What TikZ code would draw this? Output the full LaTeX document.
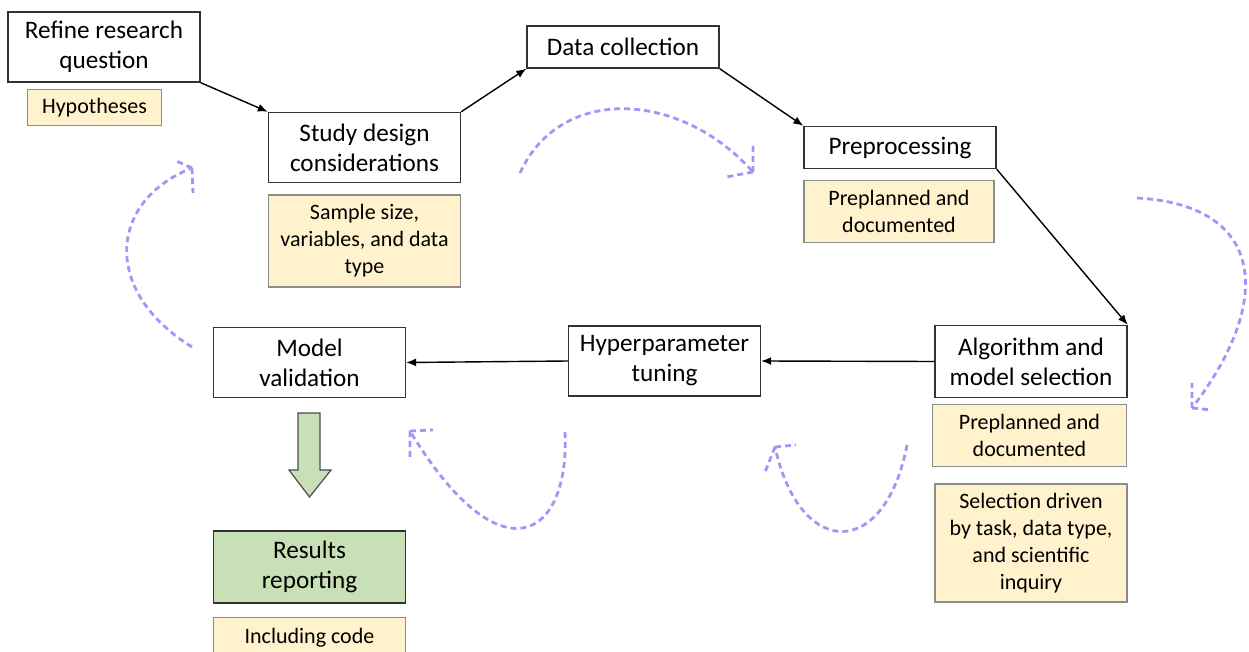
\documentclass[tikz,border=0pt]{standalone}
\usepackage{fontspec}
\setmainfont{Carlito}
\usetikzlibrary{arrows.meta}

\definecolor{notefill}{RGB}{255,242,204}
\definecolor{resultfill}{RGB}{200,224,182}
\definecolor{loopcol}{RGB}{160,150,250}

\begin{document}
\begin{tikzpicture}[
  x = 0.5pt, y = -0.5pt,
  every node/.style = {font=\fontsize{11}{13.5}\selectfont, align=center, inner sep=1pt},
  stage/.style = {draw=black!80, line width=0.7pt, fill=white, minimum width=96pt,
    font=\fontsize{12.6}{15}\selectfont},
  note/.style = {draw=black!45, line width=0.6pt, fill=notefill},
  edge/.style = {draw, line width=0.7pt, -{Latex[length=5pt, width=4pt]}},
  loop/.style = {draw=loopcol, line width=1.4pt, dash pattern=on 3pt off 2pt},
]
\useasboundingbox (0,0) rectangle (1249,652);

\node[stage, minimum height=35pt] (refine) at (104, 47) {Refine research\\question};
\node[note, minimum width=67pt, minimum height=18pt] (hyp) at (94.5, 107.5) {Hypotheses};
\node[stage, minimum height=35pt] (design) at (364.5, 147.5) {Study design\\considerations};
\node[note, minimum width=96pt, minimum height=46pt] (sample) at (364.5, 241) {Sample size,\\variables, and data\\type};
\node[stage, minimum height=21pt] (collect) at (623, 47) {Data collection};
\node[stage, minimum height=21pt] (prep) at (900, 147.5) {Preprocessing};
\node[note, minimum width=95pt, minimum height=31pt] (plan1) at (899, 211.5) {Preplanned and\\documented};
\node[stage, minimum height=36pt] (algo) at (1031, 361.5) {Algorithm and\\model selection};
\node[note, minimum width=97pt, minimum height=31pt] (plan2) at (1029.5, 435.5) {Preplanned and\\documented};
\node[note, minimum width=96pt, minimum height=59pt] (driven) at (1031, 543) {Selection driven\\by task, data type,\\and scientific\\inquiry};
\node[stage, minimum height=35pt] (tune) at (664.5, 361) {Hyperparameter\\tuning};
\node[stage, minimum height=35pt] (valid) at (309.5, 362.5) {Model\\validation};
\node[stage, fill=resultfill, minimum height=36pt] (report) at (309.5, 567) {Results\\reporting};
\node[note, minimum width=96pt, minimum height=20pt, anchor=north] (code) at (309.5, 617) {Including code};

% main flow
\foreach \from/\to in {refine.south east/design.north west, design.north east/collect.south west,
    collect.south east/prep.north west, prep.south east/algo.north east,
    algo.west/tune.east, tune.west/valid.east}
  \draw[edge] (\from) -- (\to);

% block arrow down to the report
\draw[draw=black!70, line width=0.6pt, fill=resultfill]
  (298,413) -- (320,413) -- (320,470) -- (331,470) -- (309.5,497)
  -- (289,470) -- (298,470) -- cycle;

% dashed loops, tips drawn by hand
\coordinate (tipA) at (753,172);
\coordinate (tipB) at (1192,408);
\coordinate (tipC) at (775,447);
\coordinate (tipD) at (410,431);
\coordinate (tipE) at (192,168);
\draw[loop] (520,173) .. controls (560,85) and (680,90) .. (tipA);
\draw[loop] (tipA) -- (753,145) (tipA) -- (726,177);
\draw[loop] (1137,198) .. controls (1265,205) and (1275,300) .. (tipB);
\draw[loop] (tipB) -- (1192,383) (tipB) -- (1212,410);
\draw[loop] (907,445) .. controls (885,560) and (800,560) .. (tipC);
\draw[loop] (tipC) -- (796,445) (tipC) -- (765,472);
\draw[loop] (565,432) .. controls (570,540) and (500,580) .. (tipD);
\draw[loop] (tipD) -- (433,430) (tipD) -- (410,460);
\draw[loop] (192,347) .. controls (100,290) and (110,200) .. (tipE);
\draw[loop] (tipE) -- (174,160) (tipE) -- (193,193);

\end{tikzpicture}
\end{document}
